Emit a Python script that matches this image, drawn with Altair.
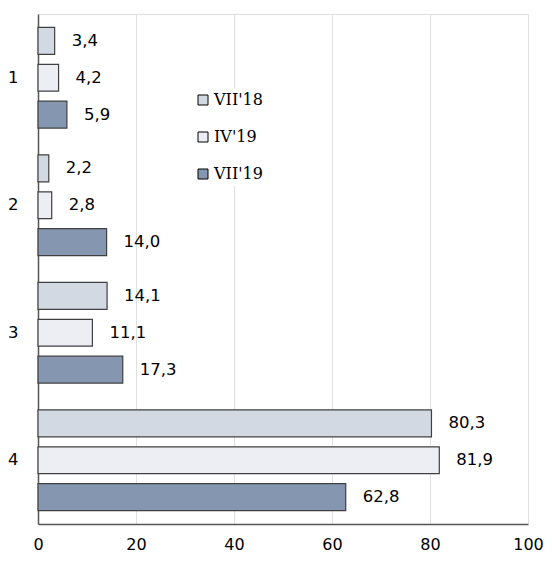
import altair as alt
import pandas as pd

categories = ["1", "2", "3", "4"]
series = ["VII'18", "IV'19", "VII'19"]
v_vii18 = [3.4, 2.2, 14.1, 80.3]
v_iv19 = [4.2, 2.8, 11.1, 81.9]
v_vii19 = [5.9, 14.0, 17.3, 62.8]
x_ticks = [0, 20, 40, 60, 80, 100]

rows = []
for s, vals in zip(series, [v_vii18, v_iv19, v_vii19]):
    for c, v in zip(categories, vals):
        rows.append({"cat": c, "series": s, "value": v,
                     "label": f"{v:.1f}".replace(".", ",")})
df = pd.DataFrame(rows)

colors = ["#d3d9e3", "#eceef3", "#8496b0"]

y = alt.Y("cat:N", sort=categories, title=None,
          scale=alt.Scale(paddingInner=0, paddingOuter=0),
          axis=alt.Axis(ticks=False, labelPadding=20, labelFontSize=16.5,
                        labelFont="DejaVu Sans", labelColor="#000",
                        domainColor="#555", domainWidth=1.5, labelAngle=0))
yoff = alt.YOffset("series:N", sort=series,
                   scale=alt.Scale(paddingInner=0.27, paddingOuter=0.365))
x = alt.X("value:Q", title=None,
          scale=alt.Scale(domain=[0, 100], nice=False),
          axis=alt.Axis(values=x_ticks, ticks=False, labelPadding=12,
                        labelFlush=False,
                        labelFontSize=16, labelFont="DejaVu Sans",
                        labelColor="#000", domainColor="#555", domainWidth=1.5,
                        grid=True, gridColor="#e0e0e0", gridWidth=1))

bars = alt.Chart(df).mark_bar(stroke="#404040", strokeWidth=1.2).encode(
    x=x, y=y, yOffset=yoff,
    color=alt.Color("series:N", sort=series,
                    scale=alt.Scale(domain=series, range=colors),
                    legend=alt.Legend(title=None, orient="none",
                                      legendX=153, legendY=74,
                                      symbolType="square", symbolSize=100,
                                      symbolStrokeColor="#000",
                                      symbolStrokeWidth=1,
                                      labelFont="DejaVu Serif",
                                      labelFontSize=16, labelColor="#000",
                                      rowPadding=21, padding=4,
                                      fillColor="white", labelOffset=3)),
)

text = alt.Chart(df).mark_text(align="left", dx=17, fontSize=16.5,
                               font="DejaVu Sans", color="#000").encode(
    x="value:Q", y=alt.Y("cat:N", sort=categories), yOffset=yoff,
    text="label:N")

chart = alt.layer(bars, text).properties(
    width=490, height=510,
    autosize=alt.AutoSizeParams(type="none"),
    padding={"left": 30, "top": 6, "right": 16, "bottom": 28},
).configure_view(stroke="#e0e0e0")

chart.save("out.html", embed_options={"renderer": "svg", "actions": False})
